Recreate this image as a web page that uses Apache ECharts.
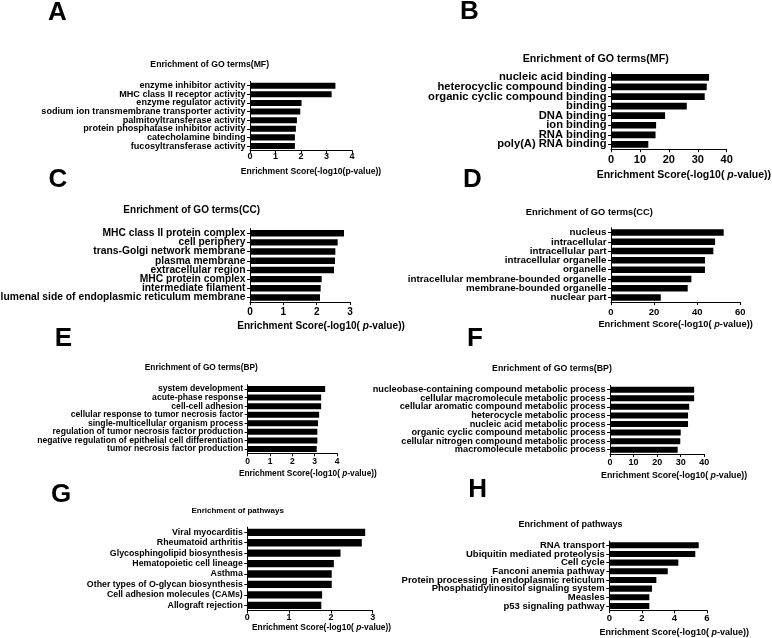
<!DOCTYPE html>
<html>
<head>
<meta charset="utf-8">
<script src="https://cdn.jsdelivr.net/npm/echarts@6/dist/echarts.min.js"></script>
<style>
html,body{margin:0;padding:0;background:#fff;}
#chart{width:772px;height:638px;}
</style>
</head>
<body>
<div id="chart"></div>
<script>
// ---------- DATA ----------
const aCategories = ['enzyme inhibitor activity','MHC class II receptor activity','enzyme regulator activity','sodium ion transmembrane transporter activity','palmitoyltransferase activity','protein phosphatase inhibitor activity','catecholamine binding','fucosyltransferase activity'];
const aValues = [3.35, 3.2, 2.02, 1.97, 1.84, 1.8, 1.76, 1.76];
const aTicks = [0, 1, 2, 3, 4];

const bCategories = ['nucleic acid binding','heterocyclic compound binding','organic cyclic compound binding','binding','DNA binding','ion binding','RNA binding','poly(A) RNA binding'];
const bValues = [33.9, 33.1, 32.4, 26.2, 18.7, 15.6, 15.4, 12.9];
const bTicks = [0, 10, 20, 30, 40];

const cCategories = ['MHC class II protein complex','cell periphery','trans-Golgi network membrane','plasma membrane','extracellular region','MHC protein complex','intermediate filament','lumenal side of endoplasmic reticulum membrane'];
const cValues = [2.82, 2.63, 2.56, 2.55, 2.52, 2.15, 2.12, 2.1];
const cTicks = [0, 1, 2, 3];

const dCategories = ['nucleus','intracellular','intracellular part','intracellular organelle','organelle','intracellular membrane-bounded organelle','membrane-bounded organelle','nuclear part'];
const dValues = [52.3, 48.3, 47.5, 43.6, 43.6, 37.3, 35.6, 23.1];
const dTicks = [0, 20, 40, 60];

const eCategories = ['system development','acute-phase response','cell-cell adhesion','cellular response to tumor necrosis factor','single-multicellular organism process','regulation of tumor necrosis factor production','negative regulation of epithelial cell differentiation','tumor necrosis factor production'];
const eValues = [3.47, 3.29, 3.29, 3.2, 3.15, 3.12, 3.12, 3.09];
const eTicks = [0, 1, 2, 3, 4];

const fCategories = ['nucleobase-containing compound metabolic process','cellular macromolecule metabolic process','cellular aromatic compound metabolic process','heterocycle metabolic process','nucleic acid metabolic process','organic cyclic compound metabolic process','cellular nitrogen compound metabolic process','macromolecule metabolic process'];
const fValues = [35.7, 35.7, 33.6, 33.1, 33.1, 30.0, 29.8, 28.7];
const fTicks = [0, 10, 20, 30, 40];

const gCategories = ['Viral myocarditis','Rheumatoid arthritis','Glycosphingolipid biosynthesis','Hematopoietic cell lineage','Asthma','Other types of O-glycan biosynthesis','Cell adhesion molecules (CAMs)','Allograft rejection'];
const gValues = [2.82, 2.74, 2.23, 2.07, 2.02, 2.02, 1.79, 1.77];
const gTicks = [0, 1, 2, 3];

const hCategories = ['RNA transport','Ubiquitin mediated proteolysis','Cell cycle','Fanconi anemia pathway','Protein processing in endoplasmic reticulum','Phosphatidylinositol signaling system','Measles','p53 signaling pathway'];
const hValues = [5.49, 5.28, 4.24, 3.59, 2.89, 2.62, 2.46, 2.46];
const hTicks = [0, 2, 4, 6];

const panelLetters = ['A','B','C','D','E','F','G','H'];
const panelTitles = ['Enrichment of GO terms(MF)','Enrichment of GO terms(MF)','Enrichment of GO terms(CC)','Enrichment of GO terms(CC)','Enrichment of GO terms(BP)','Enrichment of GO terms(BP)','Enrichment of pathways','Enrichment of pathways'];
const axisNamePlain = 'Enrichment Score(-log10(p-value))';
const axisNameItalic = 'Enrichment Score(-log10( {it|p}-value))';

// ---------- LAYOUT / STYLE ----------
const FONT = '"Liberation Sans", Arial, Helvetica, sans-serif';
const panels = [
  {cat:aCategories, val:aValues, ticks:aTicks, left:250, top:81.4, width:102, height:68.9, lf:9.1, tf:9, tm:2, nf:8.6, ng:17, npad:20, italic:false,
   title:{x:209.7, y:65, f:8.7}, letter:{x:57.5, y:12}},
  {cat:bCategories, val:bValues, ticks:bTicks, left:611, top:72.6, width:115.7, height:76.6, lf:11.2, tf:11, tm:5, nf:10.5, ng:20.5, npad:30, italic:true,
   title:{x:595.7, y:59, f:10.7}, letter:{x:469.5, y:11}},
  {cat:cCategories, val:cValues, ticks:cTicks, left:250, top:228.6, width:100, height:73.5, lf:10.3, tf:10, tm:5, nf:10.1, ng:19, npad:42, italic:true,
   title:{x:191.7, y:210, f:10}, letter:{x:58, y:179}},
  {cat:dCategories, val:dValues, ticks:dTicks, left:611, top:227.9, width:129.3, height:74.2, lf:9.8, tf:9.5, tm:5, nf:9.3, ng:18, npad:0, italic:true,
   title:{x:589.3, y:212.7, f:9.3}, letter:{x:472.3, y:179}},
  {cat:eCategories, val:eValues, ticks:eTicks, left:247.7, top:384.7, width:89.3, height:68.6, lf:8.65, tf:8.5, tm:3.5, nf:8.3, ng:16.5, npad:31, italic:true,
   title:{x:201.3, y:368, f:8.3}, letter:{x:63.3, y:337.5}},
  {cat:fCategories, val:fValues, ticks:fTicks, left:610, top:385.4, width:94.3, height:68.6, lf:9.2, tf:9, tm:4.5, nf:8.8, ng:17.3, npad:34, italic:true,
   title:{x:552, y:368.3, f:8.8}, letter:{x:475, y:337.5}},
  {cat:gCategories, val:gValues, ticks:gTicks, left:247.3, top:527.1, width:125.4, height:83.4, lf:8.8, tf:9, tm:3, nf:8.4, ng:13, npad:23, italic:true,
   title:{x:237.7, y:510.7, f:8}, letter:{x:61, y:494}},
  {cat:hCategories, val:hValues, ticks:hTicks, left:609.3, top:541, width:97.7, height:69.3, lf:9.5, tf:9.5, tm:3, nf:9, ng:17.5, npad:32, italic:true,
   title:{x:570.5, y:524.3, f:9}, letter:{x:477.7, y:489}}
];

const grid = [], xAxis = [], yAxis = [], series = [], graphic = [];
panels.forEach((p, i) => {
  grid.push({left:p.left, top:p.top, width:p.width, height:p.height, containLabel:false, outerBoundsMode:'none'});
  const tmin = p.ticks[0], tmax = p.ticks[p.ticks.length-1], tint = p.ticks[1]-p.ticks[0];
  xAxis.push({
    type:'value', gridIndex:i, min:tmin, max:tmax, interval:tint,
    axisLine:{show:true, lineStyle:{color:'#000', width:1}},
    axisTick:{show:true, length:3, lineStyle:{color:'#000', width:1}},
    splitLine:{show:false},
    axisLabel:{color:'#000', fontFamily:FONT, fontWeight:'bold', fontSize:p.tf, margin:p.tm},
    name: p.italic ? axisNameItalic : axisNamePlain,
    nameLocation:'middle', nameGap:p.ng,
    nameTextStyle:{color:'#000', fontFamily:FONT, fontWeight:'bold', fontSize:p.nf, padding:[0,0,0,p.npad],
      rich:{it:{fontStyle:'italic', fontWeight:'bold', fontFamily:FONT, fontSize:p.nf, color:'#000'}}}
  });
  yAxis.push({
    type:'category', gridIndex:i, data:p.cat, inverse:true,
    axisLine:{show:true, lineStyle:{color:'#000', width:1}},
    axisTick:{show:true, alignWithLabel:true, length:3, lineStyle:{color:'#000', width:1}},
    axisLabel:{color:'#000', fontFamily:FONT, fontWeight:'bold', fontSize:p.lf, margin:4.5, interval:0}
  });
  series.push({
    type:'bar', xAxisIndex:i, yAxisIndex:i, data:p.val, barCategoryGap:'30%',
    itemStyle:{color:'#000'}, silent:true, animation:false
  });
  graphic.push({type:'text', x:p.title.x, y:p.title.y, style:{text:panelTitles[i], fill:'#000',
    font:'bold '+p.title.f+'px '+FONT, textAlign:'center', textVerticalAlign:'middle'}});
  graphic.push({type:'text', x:p.letter.x, y:p.letter.y+1, style:{text:panelLetters[i], fill:'#000',
    font:'bold 26px '+FONT, textAlign:'center', textVerticalAlign:'middle'}});
});

const chart = echarts.init(document.getElementById('chart'), null, {renderer:'canvas'});
chart.setOption({backgroundColor:'#fff', animation:false, grid, xAxis, yAxis, series, graphic});
</script>
</body>
</html>
